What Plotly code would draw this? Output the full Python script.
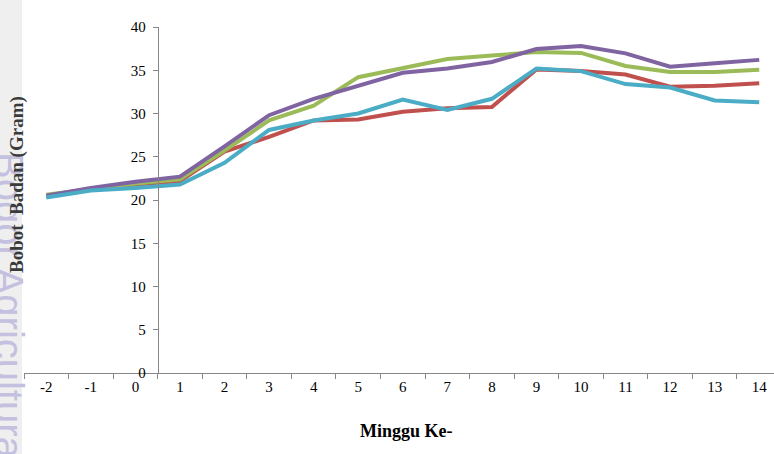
import plotly.graph_objects as go

weeks = ["-2", "-1", "0", "1", "2", "3", "4", "5", "6", "7", "8", "9", "10", "11", "12", "13", "14"]
red = [20.5, 21.3, 21.8, 22.2, 25.6, 27.3, 29.2, 29.3, 30.2, 30.6, 30.75, 35.1, 34.9, 34.5, 33.1, 33.2, 33.5]
green = [20.6, 21.3, 21.9, 22.4, 25.7, 29.2, 30.9, 34.2, 35.3, 36.3, 36.7, 37.1, 37.0, 35.5, 34.8, 34.8, 35.05]
purple = [20.5, 21.4, 22.1, 22.7, 26.2, 29.8, 31.7, 33.2, 34.7, 35.2, 35.95, 37.45, 37.8, 36.95, 35.4, 35.8, 36.2]
cyan = [20.3, 21.1, 21.4, 21.8, 24.3, 28.1, 29.2, 30.0, 31.6, 30.4, 31.7, 35.2, 34.9, 33.4, 33.0, 31.5, 31.3]
y_ticks = [0, 5, 10, 15, 20, 25, 30, 35, 40]

series = [(red, "#C0504D"), (green, "#9BBB59"), (purple, "#8064A2"), (cyan, "#4BACC6")]

W, H = 774, 454
ml, mr, mt, mb = 24, 0, 27, 81
pw = W - ml - mr
ph = H - mt - mb

fig = go.Figure()
for vals, col in series:
    fig.add_trace(go.Scatter(x=weeks, y=vals, mode="lines",
                             line=dict(color=col, width=4), showlegend=False,
                             hoverinfo="skip"))

font_serif = "Liberation Serif, Times New Roman, serif"
axis_col = "#868686"

spacing = 44.56
right_idx = pw / spacing - 0.5
yaxis_pos = (3 * spacing) / pw  # boundary between "0" and "1"


def px_x(px):
    return (px - ml) / pw


def px_y(py):
    return 1 - (py - mt) / ph


fig.update_layout(
    width=W, height=H,
    margin=dict(l=ml, r=mr, t=mt, b=mb, autoexpand=False),
    paper_bgcolor="white", plot_bgcolor="white",
    xaxis=dict(type="category", range=[-0.5, right_idx], showgrid=False, zeroline=False,
               automargin=False,
               showline=True, linecolor=axis_col, linewidth=1,
               ticks="outside", tickson="boundaries", ticklen=5, tickcolor=axis_col,
               tickfont=dict(family=font_serif, size=15, color="black")),
    yaxis=dict(range=[0, 40], tickvals=y_ticks, showgrid=False, zeroline=False,
               automargin=False,
               showline=True, linecolor=axis_col, linewidth=1,
               ticks="outside", ticklen=5, tickcolor=axis_col,
               anchor="free", position=yaxis_pos, ticklabelstandoff=4,
               tickfont=dict(family=font_serif, size=15, color="black")),
    shapes=[dict(type="rect", xref="paper", yref="paper",
                 x0=px_x(0), x1=px_x(22), y0=px_y(H + 5), y1=px_y(-5),
                 fillcolor="#efefef", line=dict(width=0), layer="below")],
    annotations=[
        dict(text="Bogor Agricultural University", xref="paper", yref="paper",
             x=px_x(9), y=px_y(150), xanchor="center", yanchor="top",
             textangle=90, showarrow=False,
             font=dict(family="Liberation Sans, Arial, sans-serif", size=40, color="#c4c0df")),
        dict(text="<b>Bobot  Badan (Gram)</b>", xref="paper", yref="paper",
             x=px_x(17), y=px_y(185), xanchor="center", yanchor="middle",
             textangle=-90, showarrow=False,
             font=dict(family=font_serif, size=19, color="#3a3a3a")),
        dict(text="<b>Minggu Ke-</b>", xref="paper", yref="paper",
             x=px_x(406), y=px_y(431), xanchor="center", yanchor="middle",
             showarrow=False,
             font=dict(family=font_serif, size=18, color="black")),
    ],
)

fig.write_html("out.html", config={"displayModeBar": False},
               post_script="document.body.style.margin='0';document.body.style.overflow='hidden';")
